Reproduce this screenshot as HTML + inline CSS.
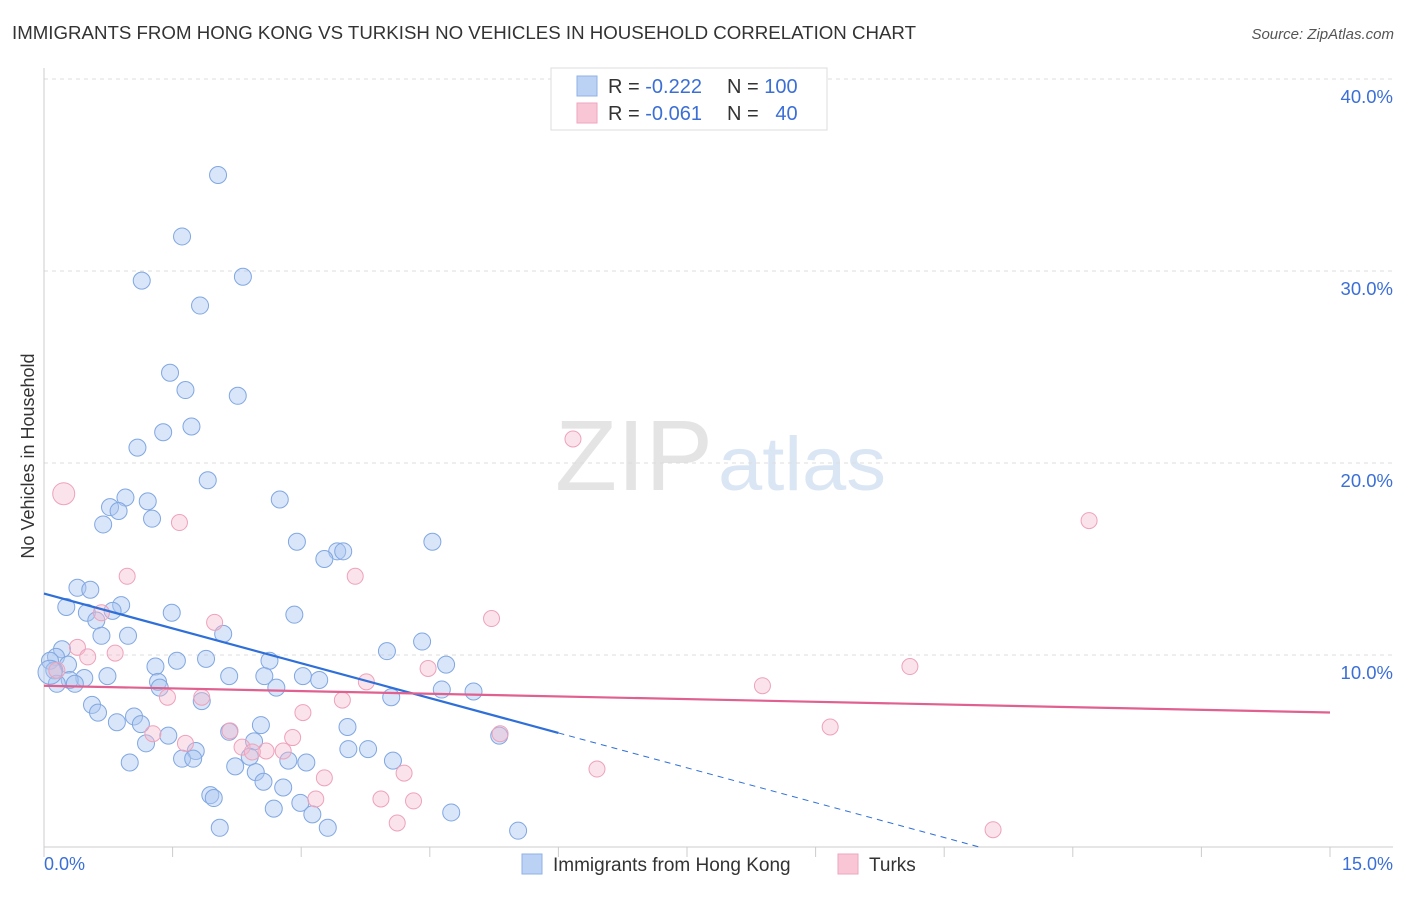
<!DOCTYPE html>
<html><head><meta charset="utf-8"><style>
body{margin:0;background:#fff;font-family:"Liberation Sans",sans-serif;}
svg text{font-family:"Liberation Sans",sans-serif;}
</style></head><body>
<svg id="chart" width="1406" height="892">
<text x="12" y="39" font-size="18.5" fill="#333" textLength="904" lengthAdjust="spacingAndGlyphs">IMMIGRANTS FROM HONG KONG VS TURKISH NO VEHICLES IN HOUSEHOLD CORRELATION CHART</text>
<text x="1394" y="39" font-size="15" fill="#555" font-style="italic" text-anchor="end">Source: ZipAtlas.com</text>
<text x="555" y="490" font-size="100" fill="#e4e4e4" font-family="Liberation Serif" textLength="158" lengthAdjust="spacingAndGlyphs">ZIP</text>
<text x="718" y="490" font-size="76" fill="#dbe6f5" textLength="168" lengthAdjust="spacingAndGlyphs">atlas</text>
<g id="grid"></g>
<g id="axes"></g>
<g id="pts"></g>
<g id="trend"></g>
<text transform="translate(34,456) rotate(-90)" font-size="18" fill="#333" text-anchor="middle">No Vehicles in Household</text>
<rect x="551" y="68" width="276" height="62" fill="#fff" stroke="#ddd"/>
<rect x="577" y="76" width="20" height="20" fill="#bcd2f5" stroke="#8fb0e6"/>
<rect x="577" y="103" width="20" height="20" fill="#f9c6d6" stroke="#eea6bd"/>
<text x="608" y="93" font-size="20" fill="#333">R = <tspan fill="#3b6fd6">-0.222</tspan></text>
<text x="727" y="93" font-size="20" fill="#333">N = <tspan fill="#3b6fd6">100</tspan></text>
<text x="608" y="120" font-size="20" fill="#333">R = <tspan fill="#3b6fd6">-0.061</tspan></text>
<text x="727" y="120" font-size="20" fill="#333">N = <tspan fill="#3b6fd6">&#160;&#160;40</tspan></text>
<rect x="522" y="854" width="20" height="20" fill="#bcd2f5" stroke="#8fb0e6"/>
<text x="553" y="871" font-size="19" fill="#333">Immigrants from Hong Kong</text>
<rect x="838" y="854" width="20" height="20" fill="#f9c6d6" stroke="#eea6bd"/>
<text x="869" y="871" font-size="19" fill="#333">Turks</text>
</svg>
<script>
const yTicks=[10,20,30,40];
const yTickLabels=["10.0%","20.0%","30.0%","40.0%"];
const xTickCount=10;
const blueX=[2.03,1.61,2.32,1.14,1.82,1.47,1.65,2.26,1.72,1.39,1.09,1.91,0.95,1.21,2.75,0.77,0.87,1.26,0.69,2.95,4.53,3.42,3.49,3.27,0.39,0.54,0.26,0.90,0.80,0.50,1.49,2.92,0.61,2.09,0.67,0.98,4.41,0.21,4.0,0.14,0.07,0.28,1.89,1.55,2.63,4.69,1.30,0.12,2.16,2.57,3.02,3.21,0.47,0.74,0.30,0.15,0.36,1.33,1.35,2.71,4.64,5.01,4.05,1.84,0.56,0.63,1.05,0.85,1.13,3.54,2.53,2.16,2.45,1.45,5.31,1.19,3.55,3.78,1.77,2.40,1.61,1.74,2.85,3.06,4.07,1.00,2.23,2.47,2.56,2.79,1.94,1.98,2.99,2.68,4.75,3.13,2.05,3.31,5.53,0.07];
const blueY=[35.0,31.8,29.7,29.5,28.2,24.7,23.8,23.5,21.9,21.6,20.8,19.1,18.2,18.0,18.1,17.7,17.5,17.1,16.8,15.9,15.9,15.4,15.4,15.0,13.5,13.4,12.5,12.6,12.3,12.2,12.2,12.1,11.8,11.1,11.0,11.0,10.7,10.3,10.2,9.9,9.7,9.5,9.8,9.7,9.7,9.5,9.4,9.2,8.9,8.9,8.9,8.7,8.8,8.9,8.7,8.5,8.5,8.6,8.3,8.3,8.2,8.1,7.8,7.6,7.4,7.0,6.8,6.5,6.4,6.25,6.35,6.0,5.5,5.8,5.8,5.4,5.1,5.1,5.0,4.7,4.6,4.6,4.5,4.4,4.5,4.4,4.2,3.9,3.4,3.1,2.7,2.55,2.3,2.0,1.8,1.7,1.0,1.0,0.85,9.1];
const pinkX=[6.17,0.23,12.19,1.58,0.97,3.63,0.67,5.22,1.99,0.39,0.83,0.51,10.1,4.48,0.15,3.76,8.38,1.44,1.84,3.48,3.02,9.17,2.17,1.27,5.32,2.90,1.65,2.31,2.59,2.79,2.43,6.45,4.2,3.27,3.17,3.93,4.31,4.12,11.07];
const pinkY=[21.25,18.4,17.0,16.9,14.1,14.1,12.2,11.9,11.7,10.4,10.1,9.9,9.4,9.3,9.2,8.6,8.4,7.8,7.8,7.65,7.0,6.25,6.05,5.9,5.9,5.7,5.4,5.2,5.0,5.0,4.95,4.06,3.85,3.6,2.5,2.5,2.4,1.25,0.9];
const blueTrend=[13.2,-1.21]; // intercept, slope
const blueSolidEnd=6.0;
const pinkTrend=[8.4,-0.093];
const NS="http://www.w3.org/2000/svg";
const X0=44,X1=1330,Y0=847,YT=79;
const sx=v=>X0+(X1-X0)*v/15;
const sy=v=>Y0-(Y0-YT)*v/40;
function mk(tag,attrs,parent){const e=document.createElementNS(NS,tag);for(const k in attrs)e.setAttribute(k,attrs[k]);document.getElementById(parent).appendChild(e);return e;}
yTicks.forEach((t,i)=>{
 const l=mk('line',{x1:X0,x2:1393,y1:sy(t),y2:sy(t),stroke:'#ddd','stroke-dasharray':'4,4'},'grid');
 
 
 const tx=mk('text',{x:1393,y:sy(t)+24,'font-size':18.5,fill:'#3b6fd6','text-anchor':'end'},'grid');
 tx.textContent=yTickLabels[i];
 
 
});
const ya=mk('line',{x1:X0,x2:X0,y1:68,y2:Y0,stroke:'#ccc'},'axes');


const xa=mk('line',{x1:X0,x2:1393,y1:Y0,y2:Y0,stroke:'#ccc'},'axes');


for(let i=0;i<=xTickCount;i++){
 const t=mk('line',{x1:sx(i*1.5),x2:sx(i*1.5),y1:Y0,y2:Y0+10,stroke:'#ccc'},'axes');
 
 
}
const xl0=mk('text',{x:44,y:870,'font-size':18,fill:'#3b6fd6'},'axes');xl0.textContent='0.0%';


const xl1=mk('text',{x:1393,y:870,'font-size':18,fill:'#3b6fd6','text-anchor':'end'},'axes');xl1.textContent='15.0%';


blueX.forEach((x,i)=>{
 const c=mk('circle',{cx:sx(x),cy:sy(blueY[i]),r:i===blueX.length-1?12:8.5,fill:'rgba(170,198,240,0.45)',stroke:'#80a7e2','stroke-width':1},'pts');
 
 
});
pinkX.forEach((x,i)=>{
 const c=mk('circle',{cx:sx(x),cy:sy(pinkY[i]),r:i===1?11:8,fill:'rgba(246,184,204,0.4)',stroke:'#eea2ba','stroke-width':1},'pts');
 
 
});
const by=x=>blueTrend[0]+blueTrend[1]*x;
const bl=mk('line',{x1:sx(0),y1:sy(by(0)),x2:sx(blueSolidEnd),y2:sy(by(blueSolidEnd)),stroke:'#2f6fd8','stroke-width':2.2},'trend');


const xz=-blueTrend[0]/blueTrend[1];
const bd=mk('line',{x1:sx(blueSolidEnd),y1:sy(by(blueSolidEnd)),x2:sx(xz),y2:sy(0),stroke:'#2f6fd8','stroke-width':1,'stroke-dasharray':'6,5'},'trend');


const py=x=>pinkTrend[0]+pinkTrend[1]*x;
const pl=mk('line',{x1:sx(0),y1:sy(py(0)),x2:sx(15),y2:sy(py(15)),stroke:'#e0608f','stroke-width':2.2},'trend');


</script>
</body></html>
